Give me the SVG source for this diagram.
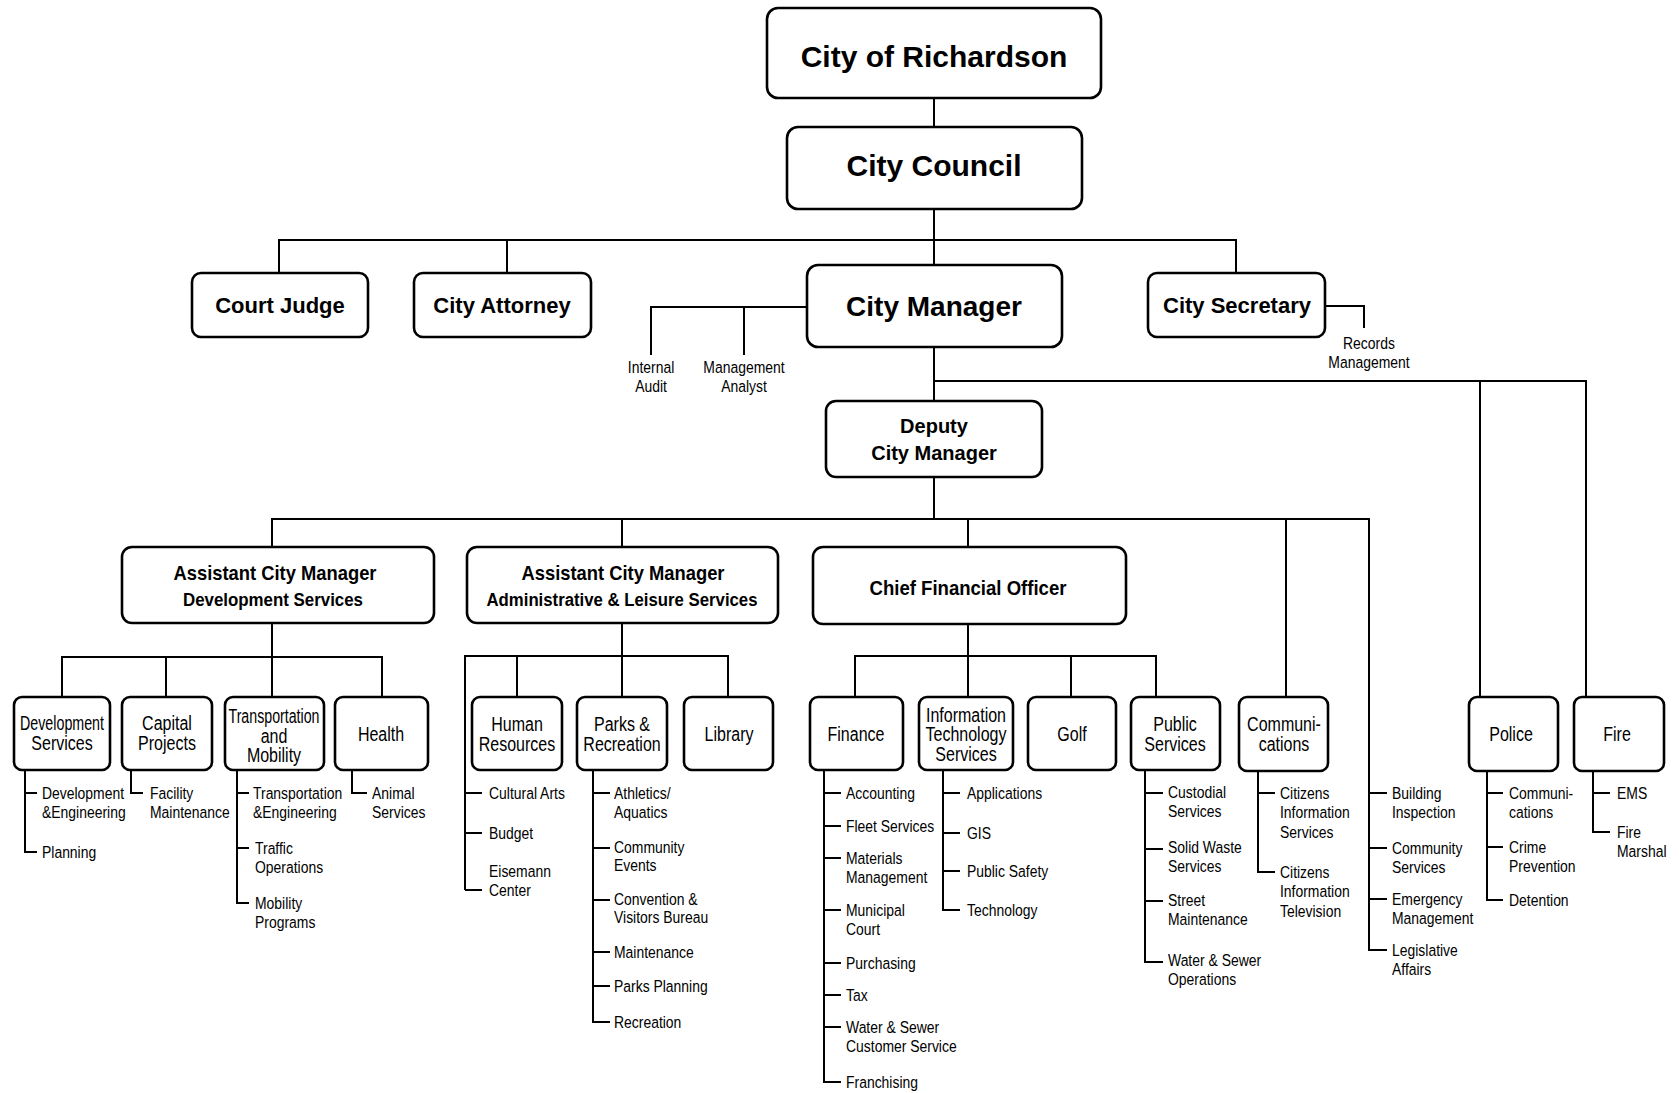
<svg xmlns="http://www.w3.org/2000/svg" width="1679" height="1093" viewBox="0 0 1679 1093">
<style>
.box{fill:#fff;stroke:#000;stroke-width:2.6}
.ln{fill:none;stroke:#000;stroke-width:2}
.hb{font-family:"Liberation Sans",Arial,sans-serif;font-weight:bold;text-anchor:middle;fill:#000}
.cb{font-family:"Liberation Sans",Arial,sans-serif;font-size:20px;text-anchor:middle;fill:#000}
.sb{font-family:"Liberation Sans",Arial,sans-serif;font-size:17px;fill:#000}
.sc{font-family:"Liberation Sans",Arial,sans-serif;font-size:17px;text-anchor:middle;fill:#000}
</style>
<rect width="1679" height="1093" fill="#fff"/>
<g id="connectors">
<path class="ln" d="M934 98V127M934 209V264M279 273V240H1236V273M507 240V273M806 307H651V355M744 307V355M1325 306H1364V328M934 347V401M934 381H1586V697M1480 381V697M934 477V519"/>
<path class="ln" d="M272 547V519H1369V950H1387M1369 793H1387M1369 848H1387M1369 899H1387M622 519V547M968 519V547M1286 519V697"/>
<path class="ln" d="M272 623V697M62 697V657H382V697M166 657V697"/>
<path class="ln" d="M622 623V697M465 890V656H728V697M517 656V697M465 793H482M465 833H482M465 890H482"/>
<path class="ln" d="M968 624V697M855 697V656H1156V697M1071 656V697"/>
<path class="ln" d="M25 770V852H37M25 793H37M131 770V793H143M237 770V903H249M237 793H249M237 848H249M352 770V793H367"/>
<path class="ln" d="M593 770V1022H610M593 793H610M593 848H610M593 900H610M593 952H610M593 986H610"/>
<path class="ln" d="M824 770V1082H841M824 793H841M824 826H841M824 858H841M824 910H841M824 963H841M824 995H841M824 1027H841"/>
<path class="ln" d="M943 770V910H960M943 793H960M943 833H960M943 871H960"/>
<path class="ln" d="M1145 770V962H1163M1145 793H1163M1145 849H1163M1145 901H1163"/>
<path class="ln" d="M1258 771V872H1275M1258 793H1275M1487 771V900H1503M1487 793H1503M1487 847H1503M1593 771V832H1610M1593 793H1610"/>
</g>
<g id="city-of-richardson"><rect class="box" x="767" y="8" width="334" height="90" rx="11"/><text class="hb" x="934" y="67" font-size="30">City of Richardson</text></g>
<g id="city-council"><rect class="box" x="787" y="127" width="295" height="82" rx="11"/><text class="hb" x="934" y="176" font-size="30">City Council</text></g>
<g id="court-judge"><rect class="box" x="192" y="273" width="176" height="64" rx="9"/><text class="hb" x="280" y="313" font-size="22">Court Judge</text></g>
<g id="city-attorney"><rect class="box" x="414" y="273" width="177" height="64" rx="9"/><text class="hb" x="502" y="313" font-size="22">City Attorney</text></g>
<g id="city-manager"><rect class="box" x="807" y="265" width="255" height="82" rx="11"/><text class="hb" x="934" y="316" font-size="28">City Manager</text></g>
<g id="city-secretary"><rect class="box" x="1148" y="273" width="177" height="64" rx="9"/><text class="hb" x="1237" y="313" font-size="22">City Secretary</text></g>
<g id="records-management"><text class="sc" transform="translate(1369 349) scale(0.82 1)"><tspan x="0">Records</tspan><tspan x="0" dy="19.5">Management</tspan></text></g>
<g id="internal-audit"><text class="sc" transform="translate(651 373) scale(0.82 1)"><tspan x="0">Internal</tspan><tspan x="0" dy="19.5">Audit</tspan></text></g>
<g id="management-analyst"><text class="sc" transform="translate(744 373) scale(0.82 1)"><tspan x="0">Management</tspan><tspan x="0" dy="19.5">Analyst</tspan></text></g>
<g id="deputy-city-manager"><rect class="box" x="826" y="401" width="216" height="76" rx="10"/><text class="hb" x="934" y="433" font-size="20">Deputy</text><text class="hb" x="934" y="460" font-size="20">City Manager</text></g>
<g id="acm-development"><rect class="box" x="122" y="547" width="312" height="76" rx="10"/><text class="hb" x="275" y="580" font-size="21" textLength="203" lengthAdjust="spacingAndGlyphs">Assistant City Manager</text><text class="hb" x="273" y="606" font-size="18" textLength="180" lengthAdjust="spacingAndGlyphs">Development Services</text></g>
<g id="acm-admin"><rect class="box" x="467" y="547" width="311" height="76" rx="10"/><text class="hb" x="623" y="580" font-size="21" textLength="203" lengthAdjust="spacingAndGlyphs">Assistant City Manager</text><text class="hb" x="622" y="606" font-size="18" textLength="271" lengthAdjust="spacingAndGlyphs">Administrative &amp; Leisure Services</text></g>
<g id="cfo"><rect class="box" x="813" y="547" width="313" height="77" rx="10"/><text class="hb" x="968" y="595" font-size="21" textLength="197" lengthAdjust="spacingAndGlyphs">Chief Financial Officer</text></g>
<g id="development-services"><rect class="box" x="14" y="697" width="96" height="73" rx="8"/><text class="cb" x="62" y="730" textLength="84" lengthAdjust="spacingAndGlyphs">Development</text><text class="cb" transform="translate(62 750) scale(0.8 1)">Services</text></g>
<g id="capital-projects"><rect class="box" x="122" y="697" width="90" height="73" rx="8"/><text class="cb" transform="translate(167 730) scale(0.8 1)"><tspan x="0">Capital</tspan><tspan x="0" dy="20">Projects</tspan></text></g>
<g id="transportation-mobility"><rect class="box" x="225" y="697" width="99" height="73" rx="8"/><text class="cb" x="274" y="723" textLength="91" lengthAdjust="spacingAndGlyphs">Transportation</text><text class="cb" transform="translate(274 743) scale(0.8 1)"><tspan x="0">and</tspan><tspan x="0" dy="19.5">Mobility</tspan></text></g>
<g id="health"><rect class="box" x="335" y="697" width="93" height="73" rx="8"/><text class="cb" transform="translate(381 741) scale(0.8 1)">Health</text></g>
<g id="human-resources"><rect class="box" x="472" y="697" width="90" height="73" rx="8"/><text class="cb" transform="translate(517 731) scale(0.8 1)"><tspan x="0">Human</tspan><tspan x="0" dy="20">Resources</tspan></text></g>
<g id="parks-recreation"><rect class="box" x="577" y="697" width="90" height="73" rx="8"/><text class="cb" transform="translate(622 731) scale(0.8 1)"><tspan x="0">Parks &amp;</tspan><tspan x="0" dy="20">Recreation</tspan></text></g>
<g id="library"><rect class="box" x="684" y="697" width="89" height="73" rx="8"/><text class="cb" transform="translate(729 741) scale(0.8 1)">Library</text></g>
<g id="finance"><rect class="box" x="810" y="697" width="93" height="73" rx="8"/><text class="cb" transform="translate(856 741) scale(0.8 1)">Finance</text></g>
<g id="it-services"><rect class="box" x="919" y="697" width="94" height="73" rx="8"/><text class="cb" transform="translate(966 722) scale(0.8 1)"><tspan x="0">Information</tspan><tspan x="0" dy="19.5">Technology</tspan><tspan x="0" dy="19.5">Services</tspan></text></g>
<g id="golf"><rect class="box" x="1028" y="697" width="88" height="73" rx="8"/><text class="cb" transform="translate(1072 741) scale(0.8 1)">Golf</text></g>
<g id="public-services"><rect class="box" x="1131" y="697" width="89" height="73" rx="8"/><text class="cb" transform="translate(1175 731) scale(0.8 1)"><tspan x="0">Public</tspan><tspan x="0" dy="20">Services</tspan></text></g>
<g id="communications"><rect class="box" x="1239" y="697" width="89" height="74" rx="8"/><text class="cb" transform="translate(1284 731) scale(0.8 1)"><tspan x="0">Communi-</tspan><tspan x="0" dy="20">cations</tspan></text></g>
<g id="police"><rect class="box" x="1469" y="697" width="89" height="74" rx="8"/><text class="cb" transform="translate(1511 741) scale(0.8 1)">Police</text></g>
<g id="fire"><rect class="box" x="1574" y="697" width="90" height="74" rx="8"/><text class="cb" transform="translate(1617 741) scale(0.8 1)">Fire</text></g>
<g id="dev-sub">
<text class="sb" transform="translate(42 799) scale(0.82 1)"><tspan x="0">Development</tspan><tspan x="0" dy="19.5">&amp;Engineering</tspan></text>
<text class="sb" transform="translate(42 858) scale(0.82 1)">Planning</text>
</g>
<g id="capital-sub"><text class="sb" transform="translate(150 799) scale(0.82 1)"><tspan x="0">Facility</tspan><tspan x="0" dy="19.5">Maintenance</tspan></text></g>
<g id="transportation-sub">
<text class="sb" transform="translate(253 799) scale(0.82 1)"><tspan x="0">Transportation</tspan><tspan x="0" dy="19.5">&amp;Engineering</tspan></text>
<text class="sb" transform="translate(255 854) scale(0.82 1)"><tspan x="0">Traffic</tspan><tspan x="0" dy="19.5">Operations</tspan></text>
<text class="sb" transform="translate(255 909) scale(0.82 1)"><tspan x="0">Mobility</tspan><tspan x="0" dy="19.5">Programs</tspan></text>
</g>
<g id="health-sub"><text class="sb" transform="translate(372 799) scale(0.82 1)"><tspan x="0">Animal</tspan><tspan x="0" dy="19.5">Services</tspan></text></g>
<g id="admin-sub">
<text class="sb" transform="translate(489 799) scale(0.82 1)">Cultural Arts</text>
<text class="sb" transform="translate(489 839) scale(0.82 1)">Budget</text>
<text class="sb" transform="translate(489 877) scale(0.82 1)"><tspan x="0">Eisemann</tspan><tspan x="0" dy="19.5">Center</tspan></text>
</g>
<g id="parks-sub">
<text class="sb" transform="translate(614 799) scale(0.82 1)"><tspan x="0">Athletics/</tspan><tspan x="0" dy="19">Aquatics</tspan></text>
<text class="sb" transform="translate(614 853) scale(0.82 1)"><tspan x="0">Community</tspan><tspan x="0" dy="18.5">Events</tspan></text>
<text class="sb" transform="translate(614 905) scale(0.82 1)"><tspan x="0">Convention &amp;</tspan><tspan x="0" dy="18.5">Visitors Bureau</tspan></text>
<text class="sb" transform="translate(614 958) scale(0.82 1)">Maintenance</text>
<text class="sb" transform="translate(614 992) scale(0.82 1)">Parks Planning</text>
<text class="sb" transform="translate(614 1028) scale(0.82 1)">Recreation</text>
</g>
<g id="finance-sub">
<text class="sb" transform="translate(846 799) scale(0.82 1)">Accounting</text>
<text class="sb" transform="translate(846 832) scale(0.82 1)">Fleet Services</text>
<text class="sb" transform="translate(846 864) scale(0.82 1)"><tspan x="0">Materials</tspan><tspan x="0" dy="19.5">Management</tspan></text>
<text class="sb" transform="translate(846 916) scale(0.82 1)"><tspan x="0">Municipal</tspan><tspan x="0" dy="19.5">Court</tspan></text>
<text class="sb" transform="translate(846 969) scale(0.82 1)">Purchasing</text>
<text class="sb" transform="translate(846 1001) scale(0.82 1)">Tax</text>
<text class="sb" transform="translate(846 1033) scale(0.82 1)"><tspan x="0">Water &amp; Sewer</tspan><tspan x="0" dy="19.5">Customer Service</tspan></text>
<text class="sb" transform="translate(846 1088) scale(0.82 1)">Franchising</text>
</g>
<g id="it-sub">
<text class="sb" transform="translate(967 799) scale(0.82 1)">Applications</text>
<text class="sb" transform="translate(967 839) scale(0.82 1)">GIS</text>
<text class="sb" transform="translate(967 877) scale(0.82 1)">Public Safety</text>
<text class="sb" transform="translate(967 916) scale(0.82 1)">Technology</text>
</g>
<g id="public-sub">
<text class="sb" transform="translate(1168 798) scale(0.82 1)"><tspan x="0">Custodial</tspan><tspan x="0" dy="19.5">Services</tspan></text>
<text class="sb" transform="translate(1168 853) scale(0.82 1)"><tspan x="0">Solid Waste</tspan><tspan x="0" dy="19.5">Services</tspan></text>
<text class="sb" transform="translate(1168 906) scale(0.82 1)"><tspan x="0">Street</tspan><tspan x="0" dy="19.5">Maintenance</tspan></text>
<text class="sb" transform="translate(1168 966) scale(0.82 1)"><tspan x="0">Water &amp; Sewer</tspan><tspan x="0" dy="19.5">Operations</tspan></text>
</g>
<g id="communications-sub">
<text class="sb" transform="translate(1280 799) scale(0.82 1)"><tspan x="0">Citizens</tspan><tspan x="0" dy="19.5">Information</tspan><tspan x="0" dy="19.5">Services</tspan></text>
<text class="sb" transform="translate(1280 878) scale(0.82 1)"><tspan x="0">Citizens</tspan><tspan x="0" dy="19.5">Information</tspan><tspan x="0" dy="19.5">Television</tspan></text>
</g>
<g id="deputy-sub">
<text class="sb" transform="translate(1392 799) scale(0.82 1)"><tspan x="0">Building</tspan><tspan x="0" dy="19.5">Inspection</tspan></text>
<text class="sb" transform="translate(1392 854) scale(0.82 1)"><tspan x="0">Community</tspan><tspan x="0" dy="19.5">Services</tspan></text>
<text class="sb" transform="translate(1392 905) scale(0.82 1)"><tspan x="0">Emergency</tspan><tspan x="0" dy="19.5">Management</tspan></text>
<text class="sb" transform="translate(1392 956) scale(0.82 1)"><tspan x="0">Legislative</tspan><tspan x="0" dy="19.5">Affairs</tspan></text>
</g>
<g id="police-sub">
<text class="sb" transform="translate(1509 799) scale(0.82 1)"><tspan x="0">Communi-</tspan><tspan x="0" dy="19.5">cations</tspan></text>
<text class="sb" transform="translate(1509 853) scale(0.82 1)"><tspan x="0">Crime</tspan><tspan x="0" dy="19.5">Prevention</tspan></text>
<text class="sb" transform="translate(1509 906) scale(0.82 1)">Detention</text>
</g>
<g id="fire-sub">
<text class="sb" transform="translate(1617 799) scale(0.82 1)">EMS</text>
<text class="sb" transform="translate(1617 838) scale(0.82 1)"><tspan x="0">Fire</tspan><tspan x="0" dy="19.5">Marshal</tspan></text>
</g>
</svg>
